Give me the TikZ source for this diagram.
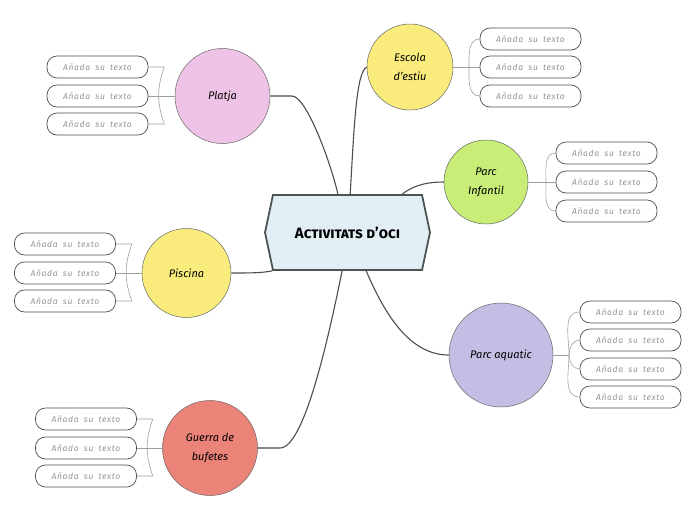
\documentclass[tikz,border=0pt]{standalone}
\usepackage{fontspec}
\setmainfont{Fira Sans}
\newfontfamily\leaffont[WordSpace=1.8,LetterSpace=8]{Fira Sans}
\usepackage{tikz}
\usetikzlibrary{positioning,shapes.symbols}
\definecolor{hubfill}{HTML}{E1EEF4}
\definecolor{hubline}{HTML}{4B5354}
\definecolor{pink}{HTML}{EFC3E6}
\definecolor{yell}{HTML}{FAEB7D}
\definecolor{lime}{HTML}{C8EE78}
\definecolor{lilac}{HTML}{C4BEE4}
\definecolor{salmon}{HTML}{EC8379}
\definecolor{wire}{HTML}{4D4D4D}
\tikzset{
	topic/.style={circle,draw=gray!80!black,line width=0.5pt,inner sep=0pt,align=center,font=\fontsize{11}{19}\selectfont\itshape},
	leaf/.style={draw=wire,line width=0.7pt,rounded corners=10pt,minimum width=101pt,minimum height=22pt,inner sep=0pt,
		font=\leaffont\fontsize{8.5}{10}\selectfont\itshape,text=gray!85},
	link/.style={draw=wire,line width=1.1pt},
	brace/.style={draw=gray!75,line width=0.6pt},
}
\begin{document}
\begin{tikzpicture}[x=1pt,y=-1pt]
		
		\useasboundingbox (0,0) rectangle (696,520);
		
		\node[signal,signal to=west and east,signal pointer angle=156,draw=hubline,line width=1.8pt,fill=hubfill,
			minimum width=165pt,minimum height=75pt,font=\fontsize{15}{17}\selectfont\bfseries\scshape] (hub) at (347.5,232.5) {Activitats d'oci};
		
		\node[topic,fill=pink,minimum size=95pt] (platja) at (222.5,96) {Platja};
		\node[topic,fill=yell,minimum size=86pt] (escola) at (410,67) {Escola\\d'estiu};
		\node[topic,fill=lime,minimum size=84pt] (infantil) at (486,182) {Parc\\Infantil};
		\node[topic,fill=yell,minimum size=89pt] (piscina) at (186.5,273) {Piscina};
		\node[topic,fill=lilac,minimum size=104pt] (aquatic) at (501,355) {Parc aquatic};
		\node[topic,fill=salmon,minimum size=95pt] (guerra) at (210,448) {Guerra de\\bufetes};
		
		\draw[link] (platja.east) -- (292,96) .. controls (306,96) and (330,160) .. (hub.104);
		\draw[link] (hub.86) .. controls (354,130) and (356,72) .. (escola.west);
		\draw[link] (hub.35) .. controls (415,184) and (430,182) .. (infantil.west);
		\draw[link] (hub.207) .. controls (262,273) and (250,273) .. (piscina.east);
		\draw[link] (hub.296) .. controls (385,315) and (410,355) .. (aquatic.west);
		\draw[link] (hub.262) .. controls (330,330) and (305,448) .. (280,448) -- (guerra.east);
		
		\node[leaf] (platja1) at (97.5,67) {Añada su texto};
		\node[leaf] (platja2) at (97.5,96) {Añada su texto};
		\node[leaf] (platja3) at (97.5,124) {Añada su texto};
		\draw[brace] (platja1.east) -- ++(16,0) to[out=-110,in=110] ++(0,57) -- (platja3.east);
		\draw[brace] (platja2.east) -- (platja.west);
		
		\node[leaf] (escola1) at (530.5,39) {Añada su texto};
		\node[leaf] (escola2) at (530.5,67) {Añada su texto};
		\node[leaf] (escola3) at (530.5,96) {Añada su texto};
		\coordinate (escolaS) at (469,67);
		\draw[brace] (escola.east) -- (escola2.west);
		\draw[brace] (escolaS) to[out=90,in=180] (escola1.west);
		\draw[brace] (escolaS) to[out=-90,in=180] (escola3.west);
		
		\node[leaf] (infantil1) at (606.5,153) {Añada su texto};
		\node[leaf] (infantil2) at (606.5,182) {Añada su texto};
		\node[leaf] (infantil3) at (606.5,211) {Añada su texto};
		\coordinate (infantilS) at (546,182);
		\draw[brace] (infantil.east) -- (infantil2.west);
		\draw[brace] (infantilS) to[out=90,in=180] (infantil1.west);
		\draw[brace] (infantilS) to[out=-90,in=180] (infantil3.west);
		
		\node[leaf] (piscina1) at (65,244) {Añada su texto};
		\node[leaf] (piscina2) at (65,273) {Añada su texto};
		\node[leaf] (piscina3) at (65,301) {Añada su texto};
		\draw[brace] (piscina1.east) -- ++(16,0) to[out=-110,in=110] ++(0,57) -- (piscina3.east);
		\draw[brace] (piscina2.east) -- (piscina.west);
		
		\node[leaf] (aquatic1) at (630.5,312) {Añada su texto};
		\node[leaf] (aquatic2) at (630.5,340) {Añada su texto};
		\node[leaf] (aquatic3) at (630.5,369) {Añada su texto};
		\node[leaf] (aquatic4) at (630.5,397) {Añada su texto};
		\coordinate (aquaticS) at (569,355);
		\draw[brace] (aquatic.east) -- (aquaticS);
		\draw[brace] (aquaticS) to[out=90,in=180] (aquatic1.west);
		\draw[brace] (aquaticS) to[out=90,in=180] (aquatic2.west);
		\draw[brace] (aquaticS) to[out=-90,in=180] (aquatic3.west);
		\draw[brace] (aquaticS) to[out=-90,in=180] (aquatic4.west);
		
		\node[leaf] (guerra1) at (86,419) {Añada su texto};
		\node[leaf] (guerra2) at (86,448) {Añada su texto};
		\node[leaf] (guerra3) at (86,476) {Añada su texto};
		\draw[brace] (guerra1.east) -- ++(16,0) to[out=-110,in=110] ++(0,57) -- (guerra3.east);
		\draw[brace] (guerra2.east) -- (guerra.west);
		
	\end{tikzpicture}
\end{document}
